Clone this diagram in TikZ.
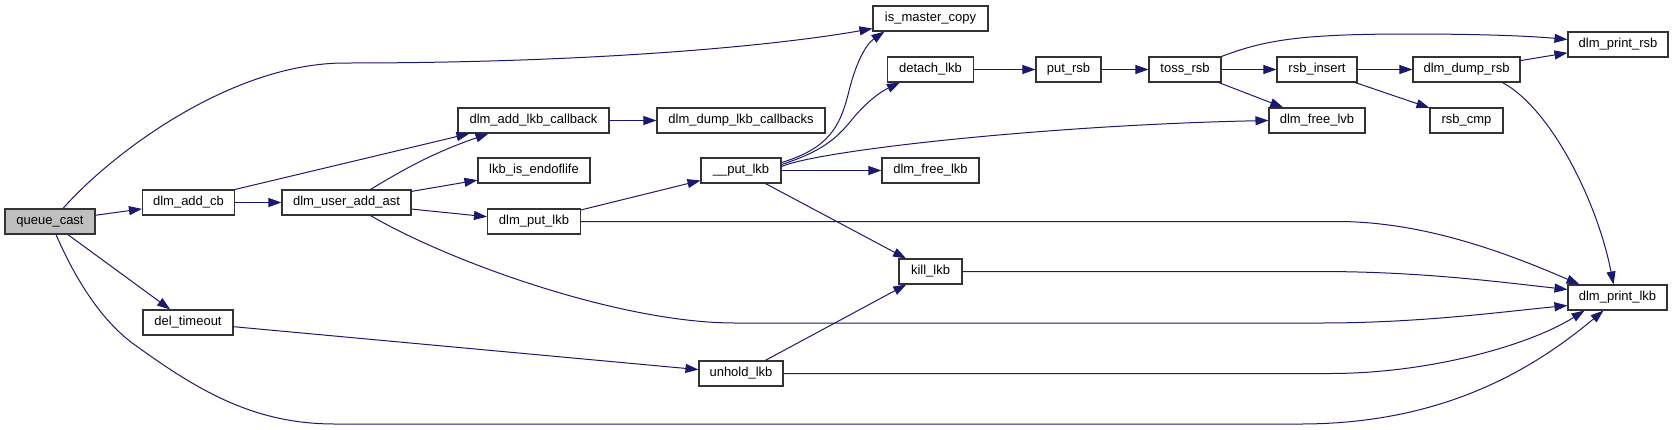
\documentclass[tikz,border=0pt]{standalone}
\usepackage{fontspec}
\setmainfont{Liberation Sans}
\usepackage{tikz}
\usetikzlibrary{arrows.meta}
\definecolor{midnight}{RGB}{25,25,112}
\definecolor{rootgray}{RGB}{191,191,191}

\begin{document}
\begin{tikzpicture}[x=1pt, y=-1pt, >={Triangle[length=13pt,width=9pt]},
    func/.style={draw=black!80, line width=1.1pt, fill=white, minimum height=25pt,
      inner xsep=2pt, inner ysep=0pt, font=\fontsize{13}{15}\selectfont},
    calls/.style={->, draw=midnight, line width=1pt}]
    \useasboundingbox (0,0) rectangle (1673,429);

    \node[func,fill=rootgray,minimum width=90pt] (queue) at (50,221.5) {queue\_cast};
    \node[func,minimum width=92pt] (addcb) at (188.5,202.5) {dlm\_add\_cb};
    \node[func,minimum width=90pt] (deltimeout) at (188,322.5) {del\_timeout};
    \node[func,minimum width=129pt] (useraddast) at (346.5,202.5) {dlm\_user\_add\_ast};
    \node[func,minimum width=151pt] (addlkbcb) at (533.5,120.5) {dlm\_add\_lkb\_callback};
    \node[func,minimum width=112pt] (endoflife) at (534,170.5) {lkb\_is\_endoflife};
    \node[func,minimum width=93pt] (putlkb) at (534,221.5) {dlm\_put\_lkb};
    \node[func,minimum width=168pt] (dumpcbs) at (741,120.5) {dlm\_dump\_lkb\_callbacks};
    \node[func,minimum width=80pt] (putlkbinner) at (741,170.5) {\_\_put\_lkb};
    \node[func,minimum width=84pt] (unhold) at (741,373.5) {unhold\_lkb};
    \node[func,minimum width=115pt] (master) at (930.5,18.5) {is\_master\_copy};
    \node[func,minimum width=86pt] (detach) at (930.5,69.5) {detach\_lkb};
    \node[func,minimum width=97pt] (freelkb) at (930.5,170.5) {dlm\_free\_lkb};
    \node[func,minimum width=63pt] (kill) at (930.5,271.5) {kill\_lkb};
    \node[func,minimum width=65pt] (putrsb) at (1068.5,69.5) {put\_rsb};
    \node[func,minimum width=72pt] (tossrsb) at (1185,69.5) {toss\_rsb};
    \node[func,minimum width=80pt] (rsbinsert) at (1317,69.5) {rsb\_insert};
    \node[func,minimum width=96pt] (freelvb) at (1317,120.5) {dlm\_free\_lvb};
    \node[func,minimum width=107pt] (dumprsb) at (1466.5,69.5) {dlm\_dump\_rsb};
    \node[func,minimum width=73pt] (rsbcmp) at (1466.5,120.5) {rsb\_cmp};
    \node[func,minimum width=100pt] (printrsb) at (1618,44.5) {dlm\_print\_rsb};
    \node[func,minimum width=99pt] (printlkb) at (1617.5,297.5) {dlm\_print\_lkb};

    \draw[calls] ([xshift=13pt]queue.north) .. controls (110,155) and (230,63) .. (345,63)
      .. controls (600,63) and (780,45) .. ([yshift=3pt]master.south west);
    \draw[calls] (queue) -- (addcb);
    \draw[calls] (queue) -- (deltimeout);
    \draw[calls] ([xshift=6pt]queue.south) .. controls (80,290) and (108,326) .. (135,345)
      .. controls (200,392) and (255,424) .. (335,424) -- (1300,424)
      .. controls (1440,424) and (1530,372) .. ([xshift=-14pt]printlkb.south);
    \draw[calls] (addcb.north east) -- ([xshift=12pt]addlkbcb.south west);
    \draw[calls] (addcb) -- (useraddast);
    \draw[calls] ([xshift=24pt]useraddast.north) to[bend left=6] ([xshift=-45pt]addlkbcb.south);
    \draw[calls] (useraddast) -- (endoflife);
    \draw[calls] (useraddast) -- (putlkb);
    \draw[calls] ([xshift=24pt]useraddast.south) .. controls (450,262) and (620,323) .. (735,323)
      -- (1320,323) .. controls (1420,323) and (1500,312) .. ([yshift=-8pt]printlkb.west);
    \draw[calls] (addlkbcb) -- (dumpcbs);
    \draw[calls] (putlkb) -- (putlkbinner);
    \draw[calls] (putlkb) -- (1337,221.5) .. controls (1420,221.5) and (1500,250) .. ([xshift=-38pt]printlkb.north);
    \draw[calls] ([yshift=8pt]putlkbinner.east) .. controls (830,148) and (840,125) .. (848,95)
      .. controls (855,65) and (865,45) .. ([xshift=12pt]master.south west);
    \draw[calls] ([yshift=6pt]putlkbinner.east) .. controls (820,152) and (835,140) .. (850,122)
      .. controls (865,103) and (880,92) .. ([xshift=13pt]detach.south west);
    \draw[calls] ([yshift=4pt]putlkbinner.east) .. controls (820,150) and (1050,125) .. (freelvb.west);
    \draw[calls] (putlkbinner) -- (freelkb);
    \draw[calls] (putlkbinner) -- (kill);
    \draw[calls] (deltimeout) -- (unhold);
    \draw[calls] (unhold) -- (kill);
    \draw[calls] (unhold) -- (1330,373.5) .. controls (1430,373.5) and (1530,345) .. ([xshift=-33pt]printlkb.south);
    \draw[calls] (kill) -- (1320,271.5) .. controls (1420,271.5) and (1500,282) .. ([yshift=8pt]printlkb.west);
    \draw[calls] (detach) -- (putrsb);
    \draw[calls] (putrsb) -- (tossrsb);
    \draw[calls] (tossrsb.north east) .. controls (1265,40) and (1300,34) .. (1410,34)
      .. controls (1480,34) and (1530,36) .. ([yshift=5pt]printrsb.west);
    \draw[calls] (tossrsb) -- (rsbinsert);
    \draw[calls] (tossrsb) -- (freelvb);
    \draw[calls] (rsbinsert) -- (dumprsb);
    \draw[calls] (rsbinsert) -- (rsbcmp);
    \draw[calls] (dumprsb) -- (printrsb);
    \draw[calls] ([xshift=36pt]dumprsb.south) .. controls (1550,108) and (1597,200) .. ([xshift=-4pt]printlkb.north);
  \end{tikzpicture}
\end{document}
